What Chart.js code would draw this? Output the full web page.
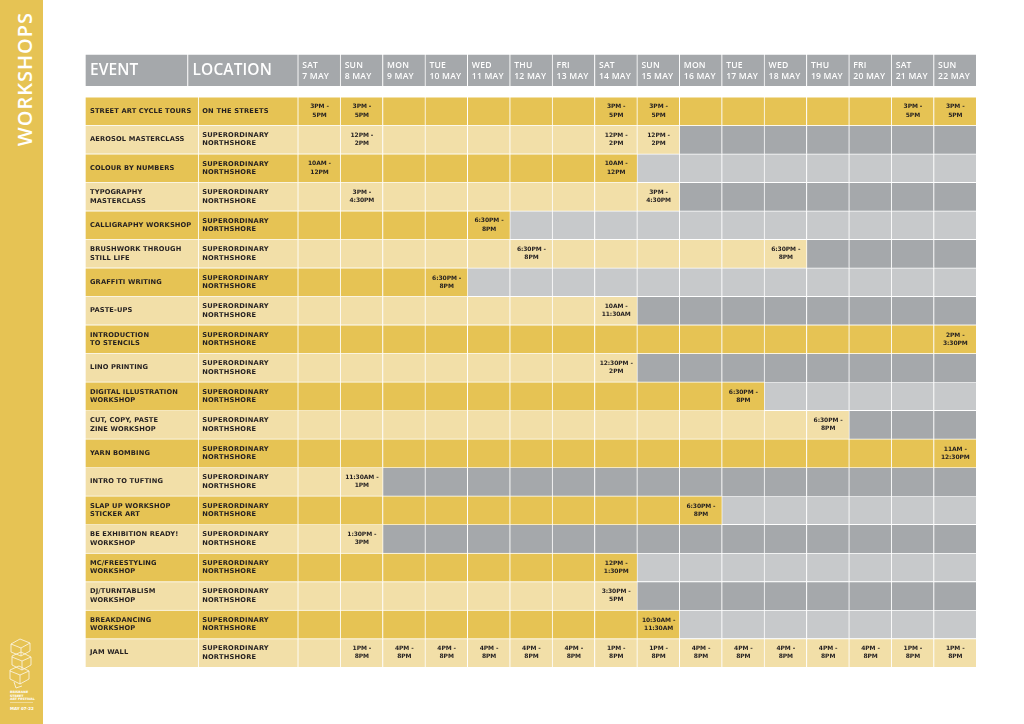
<!DOCTYPE html>
<html><head><meta charset="utf-8">
<script src="https://cdn.jsdelivr.net/npm/chart.js@4.4.0/dist/chart.umd.min.js"></script>
<style>
html,body{margin:0;padding:0;background:#fff;}
#wrap{position:relative;width:1024px;height:724px;overflow:hidden;background:#fff;}
#side{position:absolute;left:0;top:0;width:43px;height:724px;background:#E6C354;}
#side .title{position:absolute;left:24px;top:79px;transform:translate(-50%,-50%) rotate(-90deg);color:#fff;font:600 20px "Open Sans";letter-spacing:1px;white-space:nowrap;}
#side svg{position:absolute;left:0;top:630px;}
#c{position:absolute;left:0;top:0;}
</style></head>
<body>
<div id="wrap">
<canvas id="c" width="1024" height="724"></canvas>
<div id="side"><div class="title">WORKSHOPS</div>
<svg width="43" height="94" viewBox="0 0 43 94">
 <g fill="none" stroke="#fff" stroke-width="0.8" opacity="0.9">
  <path d="M11 14 L20 9 L30 13 L30 21 L21 26 L11 22 Z M11 14 L21 18 L30 13 M21 18 L21 26"/>
  <path d="M12 26 L21 22 L31 27 L31 35 L22 40 L12 35 Z M12 27 L22 31 L31 27 M22 31 L22 40"/>
  <path d="M10 40 L19 36 L29 41 L29 49 L20 54 L10 49 Z M10 41 L20 45 L29 41 M20 45 L20 54 M14 52 L16 58 L22 56"/>
 </g>
 <g fill="#fff" font-family="DejaVu Sans" font-weight="bold">
  <text x="10" y="63" font-size="3.2">BRISBANE</text>
  <text x="10" y="66.5" font-size="3.2">STREET</text>
  <text x="10" y="70" font-size="3.2">ART FESTIVAL</text>
  <rect x="10" y="72" width="23" height="0.4"/>
  <text x="10" y="79.5" font-size="4">MAY 07-22</text>
 </g>
</svg>
</div>
</div>
<script>
// ---------- DATA ----------
const dayNames  = ["SAT","SUN","MON","TUE","WED","THU","FRI","SAT","SUN","MON","TUE","WED","THU","FRI","SAT","SUN"];
const dayDates  = ["7 MAY","8 MAY","9 MAY","10 MAY","11 MAY","12 MAY","13 MAY","14 MAY","15 MAY","16 MAY","17 MAY","18 MAY","19 MAY","20 MAY","21 MAY","22 MAY"];
const headerEvent = "EVENT";
const headerLocation = "LOCATION";
const events = [
  "STREET ART CYCLE TOURS",
  "AEROSOL MASTERCLASS",
  "COLOUR BY NUMBERS",
  "TYPOGRAPHY\nMASTERCLASS",
  "CALLIGRAPHY WORKSHOP",
  "BRUSHWORK THROUGH\nSTILL LIFE",
  "GRAFFITI WRITING",
  "PASTE-UPS",
  "INTRODUCTION\nTO STENCILS",
  "LINO PRINTING",
  "DIGITAL ILLUSTRATION\nWORKSHOP",
  "CUT, COPY, PASTE\nZINE WORKSHOP",
  "YARN BOMBING",
  "INTRO TO TUFTING",
  "SLAP UP WORKSHOP\nSTICKER ART",
  "BE EXHIBITION READY!\nWORKSHOP",
  "MC/FREESTYLING\nWORKSHOP",
  "DJ/TURNTABLISM\nWORKSHOP",
  "BREAKDANCING\nWORKSHOP",
  "JAM WALL"
];
const locations = [
  "ON THE STREETS",
  "SUPERORDINARY\nNORTHSHORE","SUPERORDINARY\nNORTHSHORE","SUPERORDINARY\nNORTHSHORE","SUPERORDINARY\nNORTHSHORE",
  "SUPERORDINARY\nNORTHSHORE","SUPERORDINARY\nNORTHSHORE","SUPERORDINARY\nNORTHSHORE","SUPERORDINARY\nNORTHSHORE",
  "SUPERORDINARY\nNORTHSHORE","SUPERORDINARY\nNORTHSHORE","SUPERORDINARY\nNORTHSHORE","SUPERORDINARY\nNORTHSHORE",
  "SUPERORDINARY\nNORTHSHORE","SUPERORDINARY\nNORTHSHORE","SUPERORDINARY\nNORTHSHORE","SUPERORDINARY\nNORTHSHORE",
  "SUPERORDINARY\nNORTHSHORE","SUPERORDINARY\nNORTHSHORE","SUPERORDINARY\nNORTHSHORE"
];
// sessions per event: [day index, time]
const sessions = [
  [[0,"3PM - 5PM"],[1,"3PM - 5PM"],[7,"3PM - 5PM"],[8,"3PM - 5PM"],[14,"3PM - 5PM"],[15,"3PM - 5PM"]],
  [[1,"12PM - 2PM"],[7,"12PM - 2PM"],[8,"12PM - 2PM"]],
  [[0,"10AM - 12PM"],[7,"10AM - 12PM"]],
  [[1,"3PM - 4:30PM"],[8,"3PM - 4:30PM"]],
  [[4,"6:30PM - 8PM"]],
  [[5,"6:30PM - 8PM"],[11,"6:30PM - 8PM"]],
  [[3,"6:30PM - 8PM"]],
  [[7,"10AM - 11:30AM"]],
  [[15,"2PM - 3:30PM"]],
  [[7,"12:30PM - 2PM"]],
  [[10,"6:30PM - 8PM"]],
  [[12,"6:30PM - 8PM"]],
  [[15,"11AM - 12:30PM"]],
  [[1,"11:30AM - 1PM"]],
  [[9,"6:30PM - 8PM"]],
  [[1,"1:30PM - 3PM"]],
  [[7,"12PM - 1:30PM"]],
  [[7,"3:30PM - 5PM"]],
  [[8,"10:30AM - 11:30AM"]],
  [[1,"1PM - 8PM"],[2,"4PM - 8PM"],[3,"4PM - 8PM"],[4,"4PM - 8PM"],[5,"4PM - 8PM"],[6,"4PM - 8PM"],
   [7,"1PM - 8PM"],[8,"1PM - 8PM"],[9,"4PM - 8PM"],[10,"4PM - 8PM"],[11,"4PM - 8PM"],[12,"4PM - 8PM"],
   [13,"4PM - 8PM"],[14,"1PM - 8PM"],[15,"1PM - 8PM"]]
];

// ---------- LAYOUT / STYLE ----------
const X_MIN = -5.02;          // table left edge in day-column units
const EVENT_SPLIT = -2.35;    // event/location split (rows)
const HEADER_SPLIT = -2.6;    // event/location split (header)
const HEADER_Y = -0.94;
const COLORS = {
  header:'#A5A8AB', darkY:'#E6C354', lightY:'#F2DFA8', darkG:'#A5A8AB', lightG:'#C7C9CB'
};
const TEXT_STYLES = {
  hBig:  {font:'600 15.5px "Open Sans"', color:'#fff', align:'left', pad:5, lh:0, dy:0.5, ls:'0.1px'},
  hDay:  {font:'600 8.6px "Open Sans"', color:'#fff', align:'left', pad:4.5, lh:10.6, dy:1, ls:'0.2px'},
  name:  {font:'bold 6.7px "DejaVu Sans"', color:'#231F20', align:'left', pad:5, lh:8.4, dy:0, ls:'0.12px'},
  loc:   {font:'bold 6.7px "DejaVu Sans"', color:'#231F20', align:'left', pad:4, lh:8.4, dy:0, ls:'0.2px'},
  time:  {font:'bold 6px "DejaVu Sans"', color:'#231F20', align:'center', pad:0, lh:8.3, dy:0, ls:'-0.1px'}
};

// ---------- BUILD DATASETS ----------
const headerData = [
  {x:[X_MIN, HEADER_SPLIT], y:HEADER_Y, lines:[headerEvent], style:'hBig'},
  {x:[HEADER_SPLIT, 0], y:HEADER_Y, lines:[headerLocation], style:'hBig'}
].concat(dayNames.map((d,i)=>({x:[i,i+1], y:HEADER_Y, lines:[d, dayDates[i]], style:'hDay'})));

const dark=[], light=[], darkG=[], lightG=[];
events.forEach((ev, r) => {
  const yc = r + 0.5;
  const isDark = r % 2 === 0;
  const yel = isDark ? dark : light;
  const gry = isDark ? lightG : darkG;
  yel.push({x:[X_MIN, EVENT_SPLIT], y:yc, lines:ev.split('\n'), style:'name'});
  yel.push({x:[EVENT_SPLIT, 0], y:yc, lines:locations[r].split('\n'), style:'loc'});
  const s = sessions[r];
  const last = Math.max(...s.map(p => p[0]));
  for (let d = 0; d < dayNames.length; d++) {
    const hit = s.find(p => p[0] === d);
    const lines = hit ? hit[1].replace(' - ', ' -\n').split('\n') : [];
    (d <= last ? yel : gry).push({x:[d, d+1], y:yc, lines, style:'time'});
  }
});

const barStyle = {borderColor:'#fff', borderWidth:{top:1,left:1,right:0,bottom:0}, borderSkipped:false};
const datasets = [
  Object.assign({label:'header', data:headerData, backgroundColor:COLORS.header, barThickness:32}, barStyle),
  Object.assign({label:'dark', data:dark, backgroundColor:COLORS.darkY, barThickness:28.5}, barStyle),
  Object.assign({label:'light', data:light, backgroundColor:COLORS.lightY, barThickness:28.5}, barStyle),
  Object.assign({label:'grayDark', data:darkG, backgroundColor:COLORS.darkG, barThickness:28.5}, barStyle),
  Object.assign({label:'grayLight', data:lightG, backgroundColor:COLORS.lightG, barThickness:28.5}, barStyle)
];

const cellText = {
  id:'cellText',
  afterDatasetsDraw(chart){
    const ctx = chart.ctx;
    chart.data.datasets.forEach((ds, di) => {
      const meta = chart.getDatasetMeta(di);
      meta.data.forEach((bar, i) => {
        const d = ds.data[i];
        if (!d.lines || !d.lines.length) return;
        const p = bar.getProps(['x','base','y'], true);
        const left = Math.min(p.x, p.base), right = Math.max(p.x, p.base);
        const st = TEXT_STYLES[d.style];
        ctx.save();
        ctx.font = st.font; ctx.fillStyle = st.color; ctx.textBaseline = 'middle';
        if ('letterSpacing' in ctx) ctx.letterSpacing = st.ls;
        const n = d.lines.length;
        d.lines.forEach((ln, k) => {
          const yy = p.y + st.dy + (k - (n-1)/2) * st.lh;
          if (st.align === 'left') { ctx.textAlign = 'left'; ctx.fillText(ln, left + st.pad, yy); }
          else { ctx.textAlign = 'center'; ctx.fillText(ln, (left+right)/2 + 0.5, yy); }
        });
        ctx.restore();
      });
    });
  }
};

new Chart(document.getElementById('c'), {
  type:'bar',
  data:{datasets},
  options:{
    indexAxis:'y',
    responsive:false,
    animation:false,
    devicePixelRatio:1,
    layout:{padding:{left:85, right:48, top:54, bottom:57}},
    datasets:{bar:{grouped:false}},
    scales:{
      x:{type:'linear', min:X_MIN, max:16, display:false, offset:false},
      y:{type:'linear', min:-1.5, max:20, reverse:true, display:false, offset:false}
    },
    plugins:{legend:{display:false}, tooltip:{enabled:false}, title:{display:false}}
  },
  plugins:[cellText]
});
</script>
</body></html>
